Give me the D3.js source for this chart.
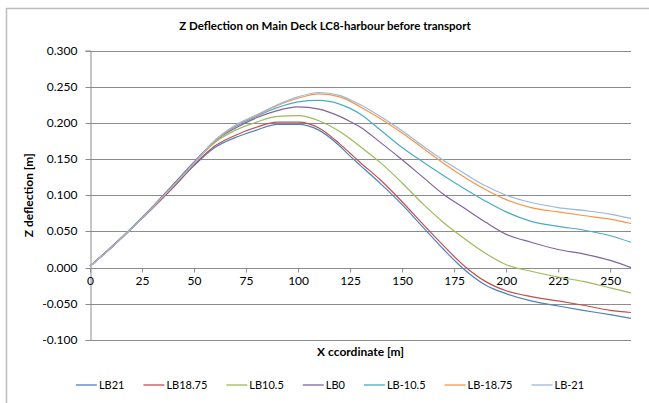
<!DOCTYPE html>
<html>
<head>
<meta charset="utf-8">
<script src="https://cdn.jsdelivr.net/npm/d3@7/dist/d3.min.js"></script>
<style>
  html, body { margin: 0; padding: 0; background: #fff; }
  svg text { font-family: Lato, "Open Sans", sans-serif; fill: #000; }
</style>
</head>
<body>
<svg id="chart" width="649" height="403"></svg>
<script>
// X coordinate along the deck [m]
const xCoords = [0, 10, 20, 30, 40, 50, 60, 70, 80, 90, 100, 110, 120, 125, 130, 140, 150, 160, 170, 180, 190, 200, 212, 225, 237, 250, 260];

// Z deflection [m] per longitudinal line
const lb21    = [0.002, 0.027, 0.054, 0.082, 0.111, 0.141, 0.166, 0.180, 0.190, 0.198, 0.198, 0.190, 0.168, 0.154, 0.141, 0.115, 0.087, 0.056, 0.025, -0.003, -0.024, -0.036, -0.046, -0.053, -0.059, -0.065, -0.070];
const lb1875  = [0.002, 0.027, 0.054, 0.082, 0.111, 0.142, 0.168, 0.183, 0.194, 0.201, 0.201, 0.193, 0.171, 0.158, 0.145, 0.120, 0.091, 0.060, 0.030, 0.002, -0.019, -0.032, -0.040, -0.046, -0.052, -0.059, -0.062];
const lb105   = [0.002, 0.028, 0.055, 0.084, 0.114, 0.145, 0.173, 0.190, 0.201, 0.209, 0.210, 0.203, 0.188, 0.178, 0.167, 0.144, 0.117, 0.088, 0.062, 0.040, 0.020, 0.004, -0.005, -0.013, -0.019, -0.028, -0.035];
const lb0     = [0.002, 0.028, 0.055, 0.084, 0.115, 0.146, 0.175, 0.193, 0.207, 0.217, 0.222, 0.219, 0.209, 0.202, 0.194, 0.172, 0.149, 0.125, 0.101, 0.082, 0.063, 0.046, 0.035, 0.025, 0.019, 0.010, 0.000];
const lbm105  = [0.002, 0.027, 0.055, 0.083, 0.114, 0.145, 0.175, 0.195, 0.209, 0.221, 0.229, 0.231, 0.226, 0.220, 0.212, 0.189, 0.166, 0.146, 0.127, 0.109, 0.092, 0.077, 0.064, 0.057, 0.052, 0.044, 0.035];
const lbm1875 = [0.002, 0.027, 0.054, 0.083, 0.113, 0.144, 0.175, 0.196, 0.210, 0.224, 0.234, 0.240, 0.236, 0.230, 0.222, 0.205, 0.186, 0.165, 0.144, 0.125, 0.108, 0.094, 0.083, 0.077, 0.072, 0.067, 0.061];
const lbm21   = [0.002, 0.027, 0.054, 0.083, 0.113, 0.144, 0.176, 0.197, 0.211, 0.225, 0.236, 0.242, 0.238, 0.232, 0.225, 0.208, 0.189, 0.168, 0.148, 0.130, 0.113, 0.100, 0.090, 0.083, 0.079, 0.074, 0.068];

const seriesNames  = ["LB21", "LB18.75", "LB10.5", "LB0", "LB-10.5", "LB-18.75", "LB-21"];
const seriesValues = [lb21, lb1875, lb105, lb0, lbm105, lbm1875, lbm21];
const seriesColors = ["#4F81BD", "#C0504D", "#9BBB59", "#8064A2", "#4BACC6", "#F79646", "#9EB6DD"];

const xTicks = [0, 25, 50, 75, 100, 125, 150, 175, 200, 225, 250];
const yTicks = [-0.1, -0.05, 0, 0.05, 0.1, 0.15, 0.2, 0.25, 0.3];

const chartTitle = "Z Deflection on Main Deck LC8-harbour before transport";
const xTitle = "X ccordinate [m]";
const yTitle = "Z deflection [m]";

const svg = d3.select("#chart");
const plot = { left: 90, right: 631, top: 50.5, bottom: 340 };
const gridColor = "#8c8c8c";

// outer chart frame
svg.append("rect")
  .attr("x", 6.5).attr("y", 8.5).attr("width", 660).attr("height", 420)
  .attr("fill", "#fff").attr("stroke", "#bdbdbd").attr("stroke-width", 1.5);

const x = d3.scaleLinear().domain([0, 260]).range([plot.left, plot.right]);
const y = d3.scaleLinear().domain([-0.1, 0.3]).range([plot.bottom, plot.top]);

// horizontal gridlines
svg.append("g")
  .selectAll("line").data(yTicks).join("line")
  .attr("x1", plot.left).attr("x2", plot.right)
  .attr("y1", d => Math.round(y(d)) + 0.5).attr("y2", d => Math.round(y(d)) + 0.5)
  .attr("stroke", gridColor).attr("stroke-width", 1);

// vertical axis with outside ticks; plain hyphen for negatives
const fmt3 = d3.format(".3f");
const yAxis = svg.append("g")
  .attr("transform", `translate(${plot.left + 0.5},0)`)
  .call(d3.axisLeft(y).tickValues(yTicks).tickSize(5).tickPadding(8)
    .tickFormat(d => fmt3(d).replace("\u2212", "-")));
yAxis.select(".domain").attr("stroke", gridColor);
yAxis.selectAll(".tick line").attr("stroke", gridColor);
yAxis.selectAll(".tick text").style("font-size", "12px").style("font-family", "Lato, sans-serif").attr("fill", "#000");
yAxis.selectAll(".tick").attr("transform", d => `translate(0,${Math.round(y(d)) + 0.5})`);

// horizontal axis sits on the zero line
const xAxis = svg.append("g")
  .attr("transform", `translate(0,${Math.round(y(0)) + 0.5})`)
  .call(d3.axisBottom(x).tickValues(xTicks).tickSize(4).tickPadding(4).tickFormat(d3.format("d")));
xAxis.select(".domain").attr("stroke", gridColor).attr("d", `M${plot.left},0H${plot.right}`);
xAxis.selectAll(".tick line").attr("stroke", gridColor);
xAxis.selectAll(".tick text").style("font-size", "12px").style("font-family", "Lato, sans-serif").attr("fill", "#000");

// deflection lines
const line = d3.line()
  .x((d, i) => x(xCoords[i]))
  .y(d => y(d))
  .curve(d3.curveMonotoneX);

svg.append("g")
  .selectAll("path").data(seriesValues).join("path")
  .attr("d", d => line(d))
  .attr("fill", "none")
  .attr("stroke", (d, i) => seriesColors[i])
  .attr("stroke-width", 1.2)
  .attr("stroke-linejoin", "round");

// titles
svg.append("text")
  .attr("x", 325).attr("y", 30)
  .attr("text-anchor", "middle")
  .style("font-size", "11.5px").style("font-weight", "bold")
  .text(chartTitle);

svg.append("text")
  .attr("x", (plot.left + plot.right) / 2).attr("y", 356)
  .attr("text-anchor", "middle")
  .style("font-size", "12px").style("font-weight", "bold")
  .text(xTitle);

svg.append("text")
  .attr("transform", `translate(33,${(plot.top + plot.bottom) / 2}) rotate(-90)`)
  .attr("text-anchor", "middle")
  .style("font-size", "12px").style("font-weight", "bold")
  .text(yTitle);

// legend, laid out left to right and centred
const legend = svg.append("g");
const items = legend.selectAll("g").data(seriesNames).join("g");
items.append("line")
  .attr("x1", 0).attr("x2", 21).attr("y1", 0).attr("y2", 0)
  .attr("stroke", (d, i) => seriesColors[i]).attr("stroke-width", 1.3);
items.append("text")
  .attr("x", 23).attr("y", 4)
  .style("font-size", "11px")
  .text(d => d);
const gap = 19;
let cursor = 0;
items.each(function () {
  const w = 23 + this.querySelector("text").getComputedTextLength();
  d3.select(this).attr("transform", `translate(${cursor},0)`);
  cursor += w + gap;
});
const legendWidth = cursor - gap;
legend.attr("transform", `translate(${330 - legendWidth / 2},385)`);
</script>
</body>
</html>
